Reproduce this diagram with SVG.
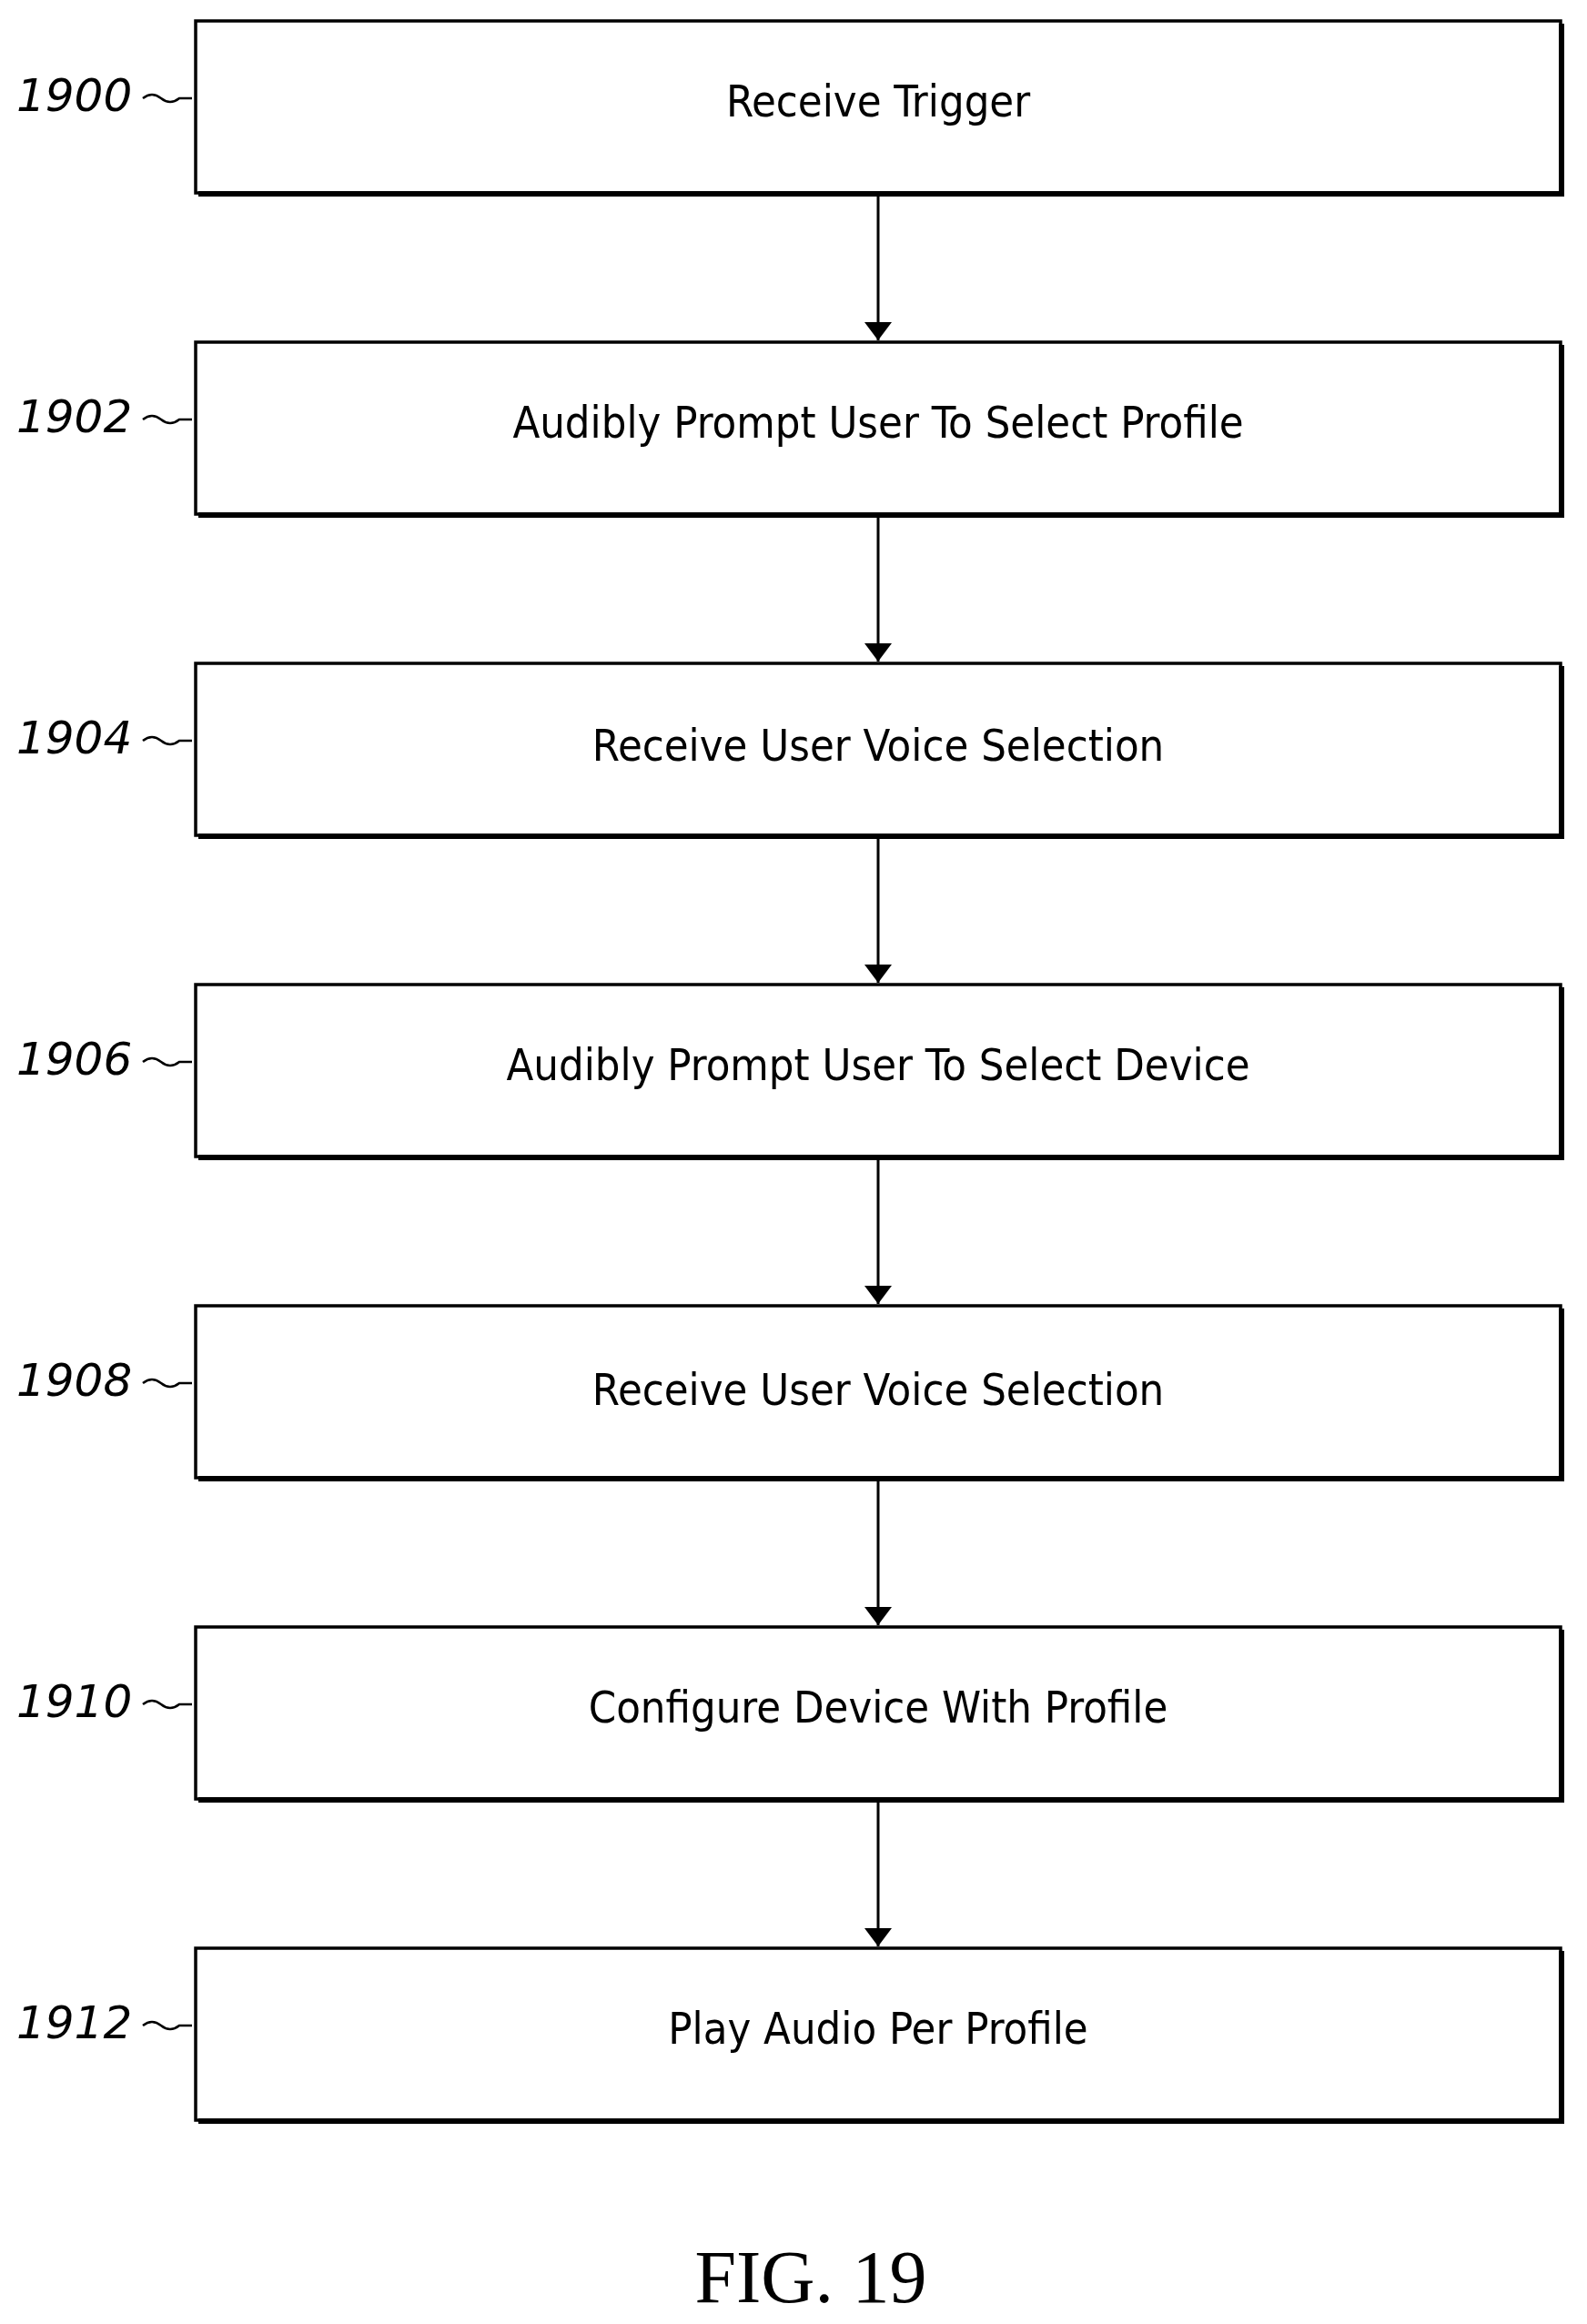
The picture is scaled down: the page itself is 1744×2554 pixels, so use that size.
<svg xmlns="http://www.w3.org/2000/svg" width="1744" height="2554" viewBox="0 0 1744 2554">
<style>
.box{fill:#fff;stroke:#000;stroke-width:3.5}
.sh{fill:none;stroke:#000;stroke-width:6}
.t{font-family:"DejaVu Sans Condensed","DejaVu Sans",sans-serif;font-size:48.5px;text-anchor:middle}
.ref{font-family:"DejaVu Sans","Liberation Sans",sans-serif;font-style:italic;font-size:50px}
.lead{fill:none;stroke:#000;stroke-width:2.5}
</style>
<defs>
<marker id="ah" viewBox="0 0 20 30" refX="20" refY="15" markerWidth="20" markerHeight="30" markerUnits="userSpaceOnUse" orient="auto"><path d="M0,0 L20,15 L0,30 Z"/></marker></defs>
<rect width="1744" height="2554" fill="#fff"/>
<g id="connectors">
<line x1="965" y1="215" x2="965" y2="374" stroke="#000" stroke-width="3" marker-end="url(#ah)"/>
<line x1="965" y1="568" x2="965" y2="727" stroke="#000" stroke-width="3" marker-end="url(#ah)"/>
<line x1="965" y1="921" x2="965" y2="1080" stroke="#000" stroke-width="3" marker-end="url(#ah)"/>
<line x1="965" y1="1274" x2="965" y2="1433" stroke="#000" stroke-width="3" marker-end="url(#ah)"/>
<line x1="965" y1="1627" x2="965" y2="1786" stroke="#000" stroke-width="3" marker-end="url(#ah)"/>
<line x1="965" y1="1980" x2="965" y2="2139" stroke="#000" stroke-width="3" marker-end="url(#ah)"/>
</g>
<g id="n1900"><rect class="box" x="215" y="23" width="1500" height="189"/><path class="sh" d="M218,213 H1716 V26"/><text class="t" x="965" y="128">Receive Trigger</text><text class="ref" x="18" y="122">1900</text><path class="lead" d="M157,108 q10,-8 20,0 t20,0 h14"/></g>
<g id="n1902"><rect class="box" x="215" y="376" width="1500" height="189"/><path class="sh" d="M218,566 H1716 V379"/><text class="t" x="965" y="481">Audibly Prompt User To Select Profile</text><text class="ref" x="18" y="475">1902</text><path class="lead" d="M157,461 q10,-8 20,0 t20,0 h14"/></g>
<g id="n1904"><rect class="box" x="215" y="729" width="1500" height="189"/><path class="sh" d="M218,919 H1716 V732"/><text class="t" x="965" y="836">Receive User Voice Selection</text><text class="ref" x="18" y="828">1904</text><path class="lead" d="M157,814 q10,-8 20,0 t20,0 h14"/></g>
<g id="n1906"><rect class="box" x="215" y="1082" width="1500" height="189"/><path class="sh" d="M218,1272 H1716 V1085"/><text class="t" x="965" y="1187">Audibly Prompt User To Select Device</text><text class="ref" x="18" y="1181">1906</text><path class="lead" d="M157,1167 q10,-8 20,0 t20,0 h14"/></g>
<g id="n1908"><rect class="box" x="215" y="1435" width="1500" height="189"/><path class="sh" d="M218,1625 H1716 V1438"/><text class="t" x="965" y="1544">Receive User Voice Selection</text><text class="ref" x="18" y="1534">1908</text><path class="lead" d="M157,1520 q10,-8 20,0 t20,0 h14"/></g>
<g id="n1910"><rect class="box" x="215" y="1788" width="1500" height="189"/><path class="sh" d="M218,1978 H1716 V1791"/><text class="t" x="965" y="1893">Configure Device With Profile</text><text class="ref" x="18" y="1887">1910</text><path class="lead" d="M157,1873 q10,-8 20,0 t20,0 h14"/></g>
<g id="n1912"><rect class="box" x="215" y="2141" width="1500" height="189"/><path class="sh" d="M218,2331 H1716 V2144"/><text class="t" x="965" y="2246">Play Audio Per Profile</text><text class="ref" x="18" y="2240">1912</text><path class="lead" d="M157,2226 q10,-8 20,0 t20,0 h14"/></g>
<text x="891" y="2530" font-family="Liberation Serif,serif" font-size="82" text-anchor="middle">FIG. 19</text>
</svg>
